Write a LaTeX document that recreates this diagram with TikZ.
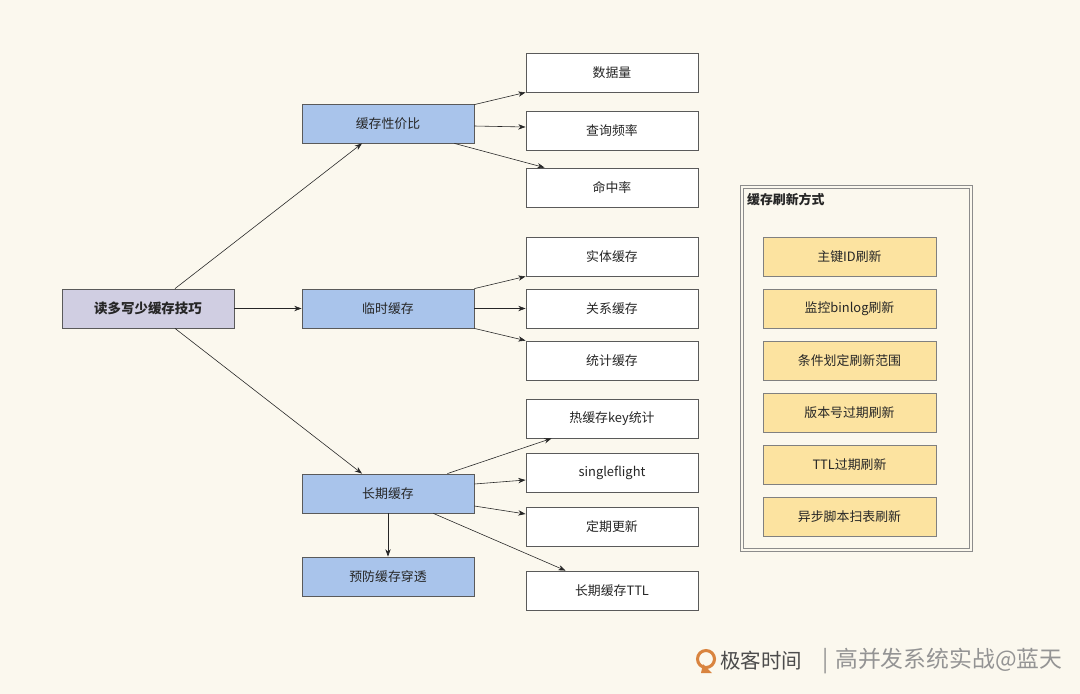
\documentclass[tikz,border=0pt]{standalone}
\usepackage{fontspec}
\setmainfont{Noto Sans CJK SC}
\usetikzlibrary{calc,arrows.meta}
\definecolor{bgcream}{HTML}{FBF8EE}
\definecolor{rootfill}{HTML}{D0CEE2}
\definecolor{bluefill}{HTML}{A9C4EB}
\definecolor{yellowfill}{HTML}{FCE3A0}
\definecolor{edgegray}{HTML}{5A5A5A}
\definecolor{logoorange}{HTML}{D9843F}
\tikzset{
  box/.style={draw=edgegray, line width=0.7pt, minimum width=5.16cm, minimum height=1.17cm,
    inner sep=0pt, font=\fontsize{11}{13}\selectfont, text=black!85},
  rootbox/.style={box, fill=rootfill, font=\fontsize{11.5}{13}\selectfont\bfseries},
  bluebox/.style={box, fill=bluefill},
  leafbox/.style={box, fill=white},
  refreshbox/.style={box, fill=yellowfill, draw=black!50, minimum width=5.19cm},
  link/.style={-{Stealth[length=2.2mm,width=1.6mm]}, line width=0.5pt, black!85}
}
\begin{document}
\begin{tikzpicture}[x=0.03cm, y=-0.03cm]
			%%%%% START %%%%%
			\fill[bgcream] (0,0) rectangle (1080,694);
			\useasboundingbox (0,0) rectangle (1080,694);
			
			% left side
			\node[rootbox] (root) at (148,308.5) {读多写少缓存技巧};
			\node[bluebox] (perf) at (388,123.5) {缓存性价比};
			\node[bluebox] (temp) at (388,308.5) {临时缓存};
			\node[bluebox] (long) at (388,493.5) {长期缓存};
			\node[bluebox] (guard) at (388,576.5) {预防缓存穿透};
			
			% leaves
			\node[leafbox] (amount) at (612,72.5) {数据量};
			\node[leafbox] (freq) at (612,130.5) {查询频率};
			\node[leafbox] (hit) at (612,187.5) {命中率};
			\node[leafbox] (entity) at (612,256.5) {实体缓存};
			\node[leafbox] (relation) at (612,308.5) {关系缓存};
			\node[leafbox] (stat) at (612,360.5) {统计缓存};
			\node[leafbox] (hotkey) at (612,418.5) {热缓存key统计};
			\node[leafbox] (flight) at (612,472.5) {singleflight};
			\node[leafbox] (regular) at (612,526.5) {定期更新};
			\node[leafbox] (ttl) at (612,590.5) {长期缓存TTL};
			
			% root links
			\draw[link] ($(root.north)+(27,0)$) -- ($(perf.south)+(-26,0)$);
			\draw[link] (root.east) -- (temp.west);
			\draw[link] ($(root.south)+(27,0)$) -- ($(long.north)+(-26,0)$);
			
			\draw[link] ($(perf.north east)+(0,1)$) -- ($(amount.south west)+(0,0)$);
			\draw[link] ($(perf.east)+(0,2.5)$) -- ($(freq.west)+(0,-3.5)$);
			\draw[link] ($(perf.south east)+(-20,0)$) -- ($(hit.north west)+(19,0)$);
			
			\draw[link] (temp.north east) -- (entity.south west);
			\draw[link] (temp.east) -- (relation.west);
			\draw[link] (temp.south east) -- (stat.north west);
			
			\draw[link] ($(long.north east)+(-27,0)$) -- ($(hotkey.south west)+(26,0)$);
			\draw[link] ($(long.east)+(0,-9.5)$) -- ($(flight.west)+(0,7.5)$);
			\draw[link] ($(long.east)+(0,12.5)$) -- ($(regular.west)+(0,-12.5)$);
			\draw[link] ($(long.south east)+(-41,0)$) -- ($(ttl.north west)+(40,0)$);
			\draw[link] (long.south -| guard.north) -- (guard.north);
			
			% refresh panel
			\draw[draw=black!45, line width=0.6pt, double=bgcream, double distance=1.6pt] (742,187) rectangle (971,550);
			\node[anchor=west, font=\fontsize{11}{13}\selectfont\bfseries, text=black!85] (paneltitle) at (743,200) {缓存刷新方式};
			\node[refreshbox] (pkey) at (849.5,256.5) {主键ID刷新};
			\node[refreshbox] (binlog) at (849.5,308.5) {监控binlog刷新};
			\node[refreshbox] (range) at (849.5,360.5) {条件划定刷新范围};
			\node[refreshbox] (version) at (849.5,412.5) {版本号过期刷新};
			\node[refreshbox] (ttlrefresh) at (849.5,464.5) {TTL过期刷新};
			\node[refreshbox] (script) at (849.5,516.5) {异步脚本扫表刷新};
			
			% logo
			\draw[logoorange, line width=2.6pt] (706,659) circle (8.5);
			\fill[logoorange] (703,664) -- (712,673) -- (701,673) -- cycle;
			\node[anchor=west, font=\fontsize{17.5}{20}\selectfont, text=black!70] (brand) at (716,661) {极客时间};
			\node[anchor=west, font=\fontsize{19.5}{22}\selectfont, text=black!42] (course) at (818,661) {|\hspace{0.3em}高并发系统实战@蓝天};
			
			%%%%% END %%%%%
		\end{tikzpicture}
\end{document}
